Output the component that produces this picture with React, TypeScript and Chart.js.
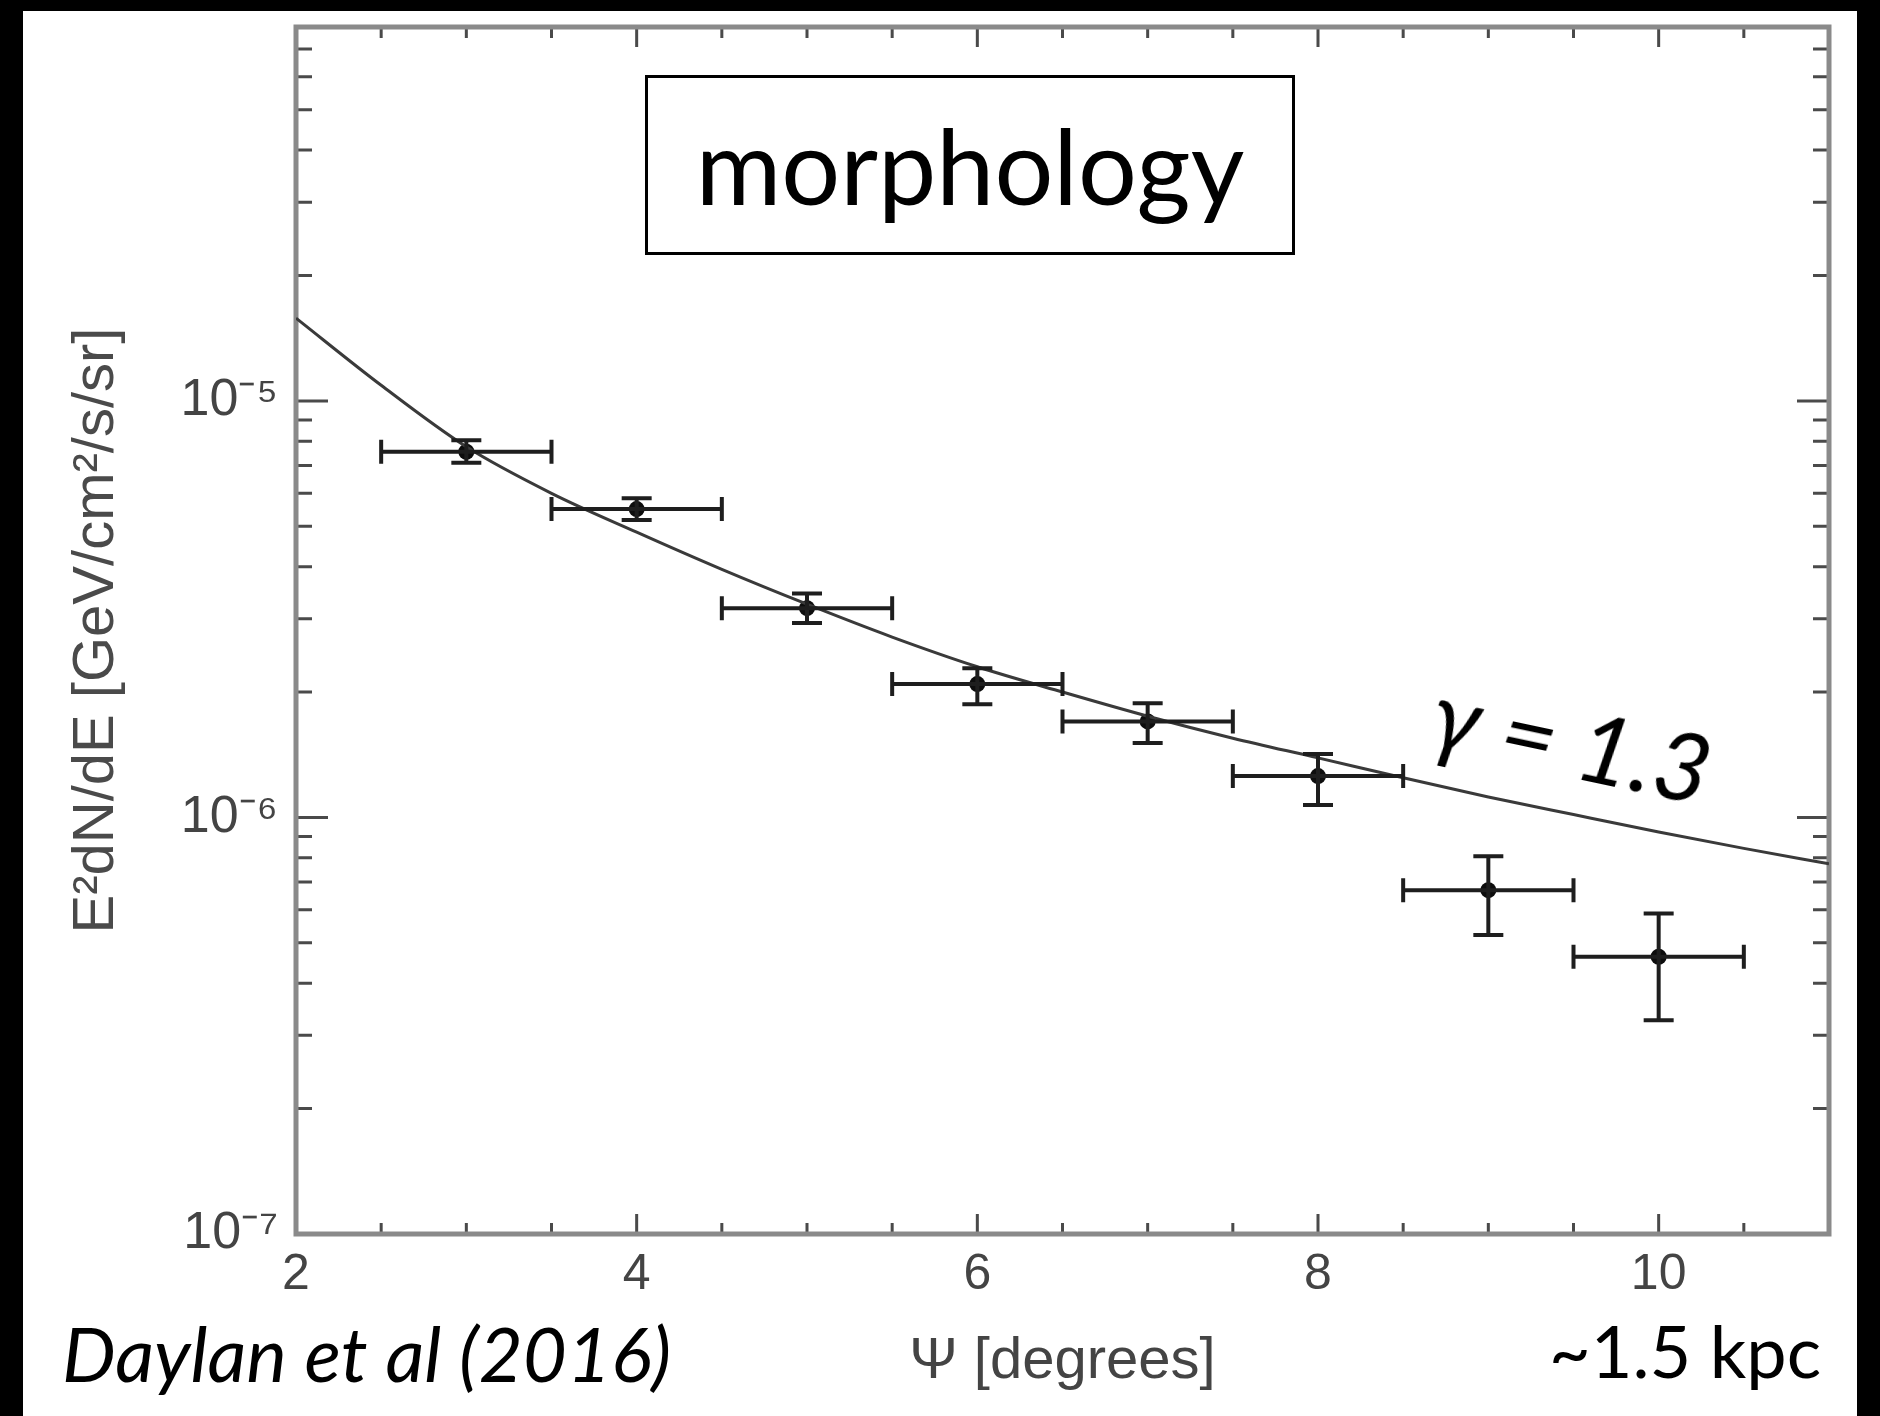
import React, { useEffect, useRef } from 'react';
import { Chart, registerables } from 'chart.js';

Chart.register(...registerables);

const W = 1880;
const H = 1416;

// ---- data ----
const psi = [3, 4, 5, 6, 7, 8, 9, 10];
const psiLow = [2.5, 3.5, 4.5, 5.5, 6.5, 7.5, 8.5, 9.5];
const psiHigh = [3.5, 4.5, 5.5, 6.5, 7.5, 8.5, 9.5, 10.5];
const flux = [7.55e-6, 5.5e-6, 3.18e-6, 2.09e-6, 1.7e-6, 1.257e-6, 6.69e-7, 4.63e-7];
const fluxUpper = [8.05e-6, 5.84e-6, 3.45e-6, 2.28e-6, 1.88e-6, 1.42e-6, 8.07e-7, 5.88e-7];
const fluxLower = [7.1e-6, 5.18e-6, 2.93e-6, 1.87e-6, 1.51e-6, 1.071e-6, 5.22e-7, 3.26e-7];

const modelPsi = [2, 2.5, 3, 3.5, 4, 4.5, 5, 5.5, 6, 6.5, 7, 7.5, 8, 8.5, 9, 9.5, 10, 10.5, 11];
const modelFlux = [
  1.58e-5, 1.09e-5, 7.76e-6, 6.0e-6, 4.84e-6, 3.94e-6, 3.25e-6, 2.71e-6, 2.3e-6, 2.0e-6,
  1.75e-6, 1.55e-6, 1.39e-6, 1.245e-6, 1.12e-6, 1.016e-6, 9.23e-7, 8.43e-7, 7.74e-7,
];

const xMajorTicks = [2, 4, 6, 8, 10];
const xTickLabels = ['2', '4', '6', '8', '10'];
const xMinorTicks = [2.5, 3, 3.5, 4.5, 5, 5.5, 6.5, 7, 7.5, 8.5, 9, 9.5, 10.5];
const yMajorTicks = [1e-7, 1e-6, 1e-5];
const yTickLabels = ['10\u207B\u2077', '10\u207B\u2076', '10\u207B\u2075'];
const yMinorTicks = [
  2e-7, 3e-7, 4e-7, 5e-7, 6e-7, 7e-7, 8e-7, 9e-7,
  2e-6, 3e-6, 4e-6, 5e-6, 6e-6, 7e-6, 8e-6, 9e-6,
  2e-5, 3e-5, 4e-5, 5e-5, 6e-5, 7e-5,
];

const xTitle = '\u03A8 [degrees]';
const yTitle = 'E\u00B2dN/dE [GeV/cm\u00B2/s/sr]';

const AXIS_FONT = '"Liberation Sans", Arial, Helvetica, sans-serif';
const SLIDE_FONT = 'Lato, "Open Sans", sans-serif';

const framePlugin = {
  id: 'frame',
  beforeDraw(chart: any) {
    const ctx = chart.ctx;
    ctx.save();
    ctx.fillStyle = '#000';
    ctx.fillRect(0, 0, W, H);
    ctx.fillStyle = '#fff';
    ctx.fillRect(23, 11, 1857 - 23, H - 11);
    ctx.restore();
  },
  beforeDatasetsDraw(chart: any) {
    const ctx = chart.ctx;
    const { left, right, top, bottom } = chart.chartArea;
    const xs = chart.scales.x;
    const ys = chart.scales.y;
    ctx.save();
    ctx.strokeStyle = '#4a4a4a';
    ctx.lineWidth = 3;
    const vTick = (v: number, len: number) => {
      const p = xs.getPixelForValue(v);
      ctx.beginPath();
      ctx.moveTo(p, bottom);
      ctx.lineTo(p, bottom - len);
      ctx.moveTo(p, top);
      ctx.lineTo(p, top + len);
      ctx.stroke();
    };
    const hTick = (v: number, len: number) => {
      const p = ys.getPixelForValue(v);
      ctx.beginPath();
      ctx.moveTo(left, p);
      ctx.lineTo(left + len, p);
      ctx.moveTo(right, p);
      ctx.lineTo(right - len, p);
      ctx.stroke();
    };
    xMajorTicks.forEach((v) => vTick(v, 20));
    xMinorTicks.forEach((v) => vTick(v, 11));
    yMajorTicks.forEach((v) => hTick(v, 32));
    yMinorTicks.forEach((v) => hTick(v, 16));
    ctx.strokeStyle = '#8a8a8a';
    ctx.lineWidth = 5;
    ctx.strokeRect(left, top, right - left, bottom - top);
    ctx.restore();
  },
};

const errorBarPlugin = {
  id: 'errorBars',
  afterDatasetsDraw(chart: any) {
    const ctx = chart.ctx;
    const xs = chart.scales.x;
    const ys = chart.scales.y;
    ctx.save();
    ctx.strokeStyle = '#1e1e1e';
    ctx.lineWidth = 4;
    psi.forEach((x, i) => {
      const px = xs.getPixelForValue(x);
      const py = ys.getPixelForValue(flux[i]);
      const x0 = xs.getPixelForValue(psiLow[i]);
      const x1 = xs.getPixelForValue(psiHigh[i]);
      const y0 = ys.getPixelForValue(fluxUpper[i]);
      const y1 = ys.getPixelForValue(fluxLower[i]);
      ctx.beginPath();
      ctx.moveTo(x0, py);
      ctx.lineTo(x1, py);
      ctx.moveTo(x0, py - 12);
      ctx.lineTo(x0, py + 12);
      ctx.moveTo(x1, py - 12);
      ctx.lineTo(x1, py + 12);
      ctx.moveTo(px, y0);
      ctx.lineTo(px, y1);
      ctx.moveTo(px - 15, y0);
      ctx.lineTo(px + 15, y0);
      ctx.moveTo(px - 15, y1);
      ctx.lineTo(px + 15, y1);
      ctx.stroke();
    });
    ctx.restore();
  },
};

const zeroPadding = (s: any) => {
  s.paddingTop = 0;
  s.paddingBottom = 0;
  s.paddingLeft = 0;
  s.paddingRight = 0;
};

export default function App() {
  const canvasRef = useRef<HTMLCanvasElement>(null);

  useEffect(() => {
    const canvas = canvasRef.current;
    if (!canvas) return;
    const chart = new Chart(canvas, {
      type: 'scatter',
      data: {
        datasets: [
          {
            type: 'line',
            label: 'model',
            data: modelPsi.map((x, i) => ({ x, y: modelFlux[i] })),
            borderColor: '#3a3a3a',
            borderWidth: 3,
            pointRadius: 0,
            fill: false,
            cubicInterpolationMode: 'monotone',
          } as any,
          {
            type: 'scatter',
            label: 'data',
            data: psi.map((x, i) => ({ x, y: flux[i] })),
            pointRadius: 8,
            backgroundColor: '#0d0d0d',
            borderWidth: 0,
          } as any,
        ],
      },
      options: {
        responsive: false,
        animation: false,
        devicePixelRatio: 1,
        layout: { padding: { left: 0, top: 27, right: W - 1829, bottom: 0 } },
        plugins: {
          legend: { display: false },
          tooltip: { enabled: false },
        },
        scales: {
          x: {
            type: 'linear',
            min: 2,
            max: 11,
            grid: { display: false, drawTicks: false },
            border: { display: false },
            afterBuildTicks: (s: any) => {
              s.ticks = xMajorTicks.map((v) => ({ value: v }));
            },
            afterFit: (s: any) => {
              s.height = H - 1234;
              zeroPadding(s);
            },
            ticks: {
              autoSkip: false,
              maxRotation: 0,
              padding: 11,
              color: '#444',
              font: { family: AXIS_FONT, size: 50 },
              callback: (_v: any, i: number) => xTickLabels[i],
            },
            title: {
              display: true,
              text: xTitle,
              color: '#444',
              font: { family: AXIS_FONT, size: 58 },
              padding: { top: 0, bottom: 19 },
            },
          },
          y: {
            type: 'logarithmic',
            min: 1e-7,
            max: 7.9e-5,
            grid: { display: false, drawTicks: false },
            border: { display: false },
            afterBuildTicks: (s: any) => {
              s.ticks = yMajorTicks.map((v) => ({ value: v }));
            },
            afterFit: (s: any) => {
              s.width = 296;
              zeroPadding(s);
            },
            ticks: {
              autoSkip: false,
              padding: 18,
              color: '#444',
              font: { family: AXIS_FONT, size: 52 },
              callback: (_v: any, i: number) => yTickLabels[i],
            },
            title: {
              display: true,
              text: yTitle,
              color: '#4a4a4a',
              font: { family: AXIS_FONT, size: 58 },
              padding: { top: 62, bottom: 0 },
            },
          },
        },
      } as any,
      plugins: [framePlugin, errorBarPlugin],
    });
    return () => chart.destroy();
  }, []);

  return (
    <div style={{ position: 'fixed', left: 0, top: 0, width: W, height: H, overflow: 'hidden', background: '#fff' }}>
      <canvas ref={canvasRef} width={W} height={H} style={{ position: 'absolute', left: 0, top: 0, width: W, height: H }} />
      <div
        style={{
          position: 'absolute',
          left: 645,
          top: 75,
          width: 650,
          height: 180,
          boxSizing: 'border-box',
          border: '3px solid #000',
          background: '#fff',
          display: 'flex',
          alignItems: 'center',
          justifyContent: 'center',
          fontFamily: SLIDE_FONT,
          fontSize: 104,
          color: '#000',
          lineHeight: 1,
        }}
      >
        morphology
      </div>
      <div
        style={{
          position: 'absolute',
          left: 1572,
          top: 740,
          transform: 'translate(-50%, -50%) rotate(12deg)',
          fontFamily: SLIDE_FONT,
          fontStyle: 'italic',
          fontSize: 96,
          color: '#000',
          lineHeight: 1,
          whiteSpace: 'nowrap',
        }}
      >
        {'\u03B3 = 1.3'}
      </div>
      <div
        style={{
          position: 'absolute',
          left: 62,
          top: 1315,
          fontFamily: SLIDE_FONT,
          fontStyle: 'italic',
          fontSize: 76,
          color: '#000',
          lineHeight: 1,
          whiteSpace: 'nowrap',
        }}
      >
        Daylan et al (2016)
      </div>
      <div
        style={{
          position: 'absolute',
          left: 1549,
          top: 1314,
          fontFamily: SLIDE_FONT,
          fontSize: 72,
          color: '#000',
          lineHeight: 1,
          whiteSpace: 'nowrap',
        }}
      >
        ~1.5 kpc
      </div>
    </div>
  );
}
